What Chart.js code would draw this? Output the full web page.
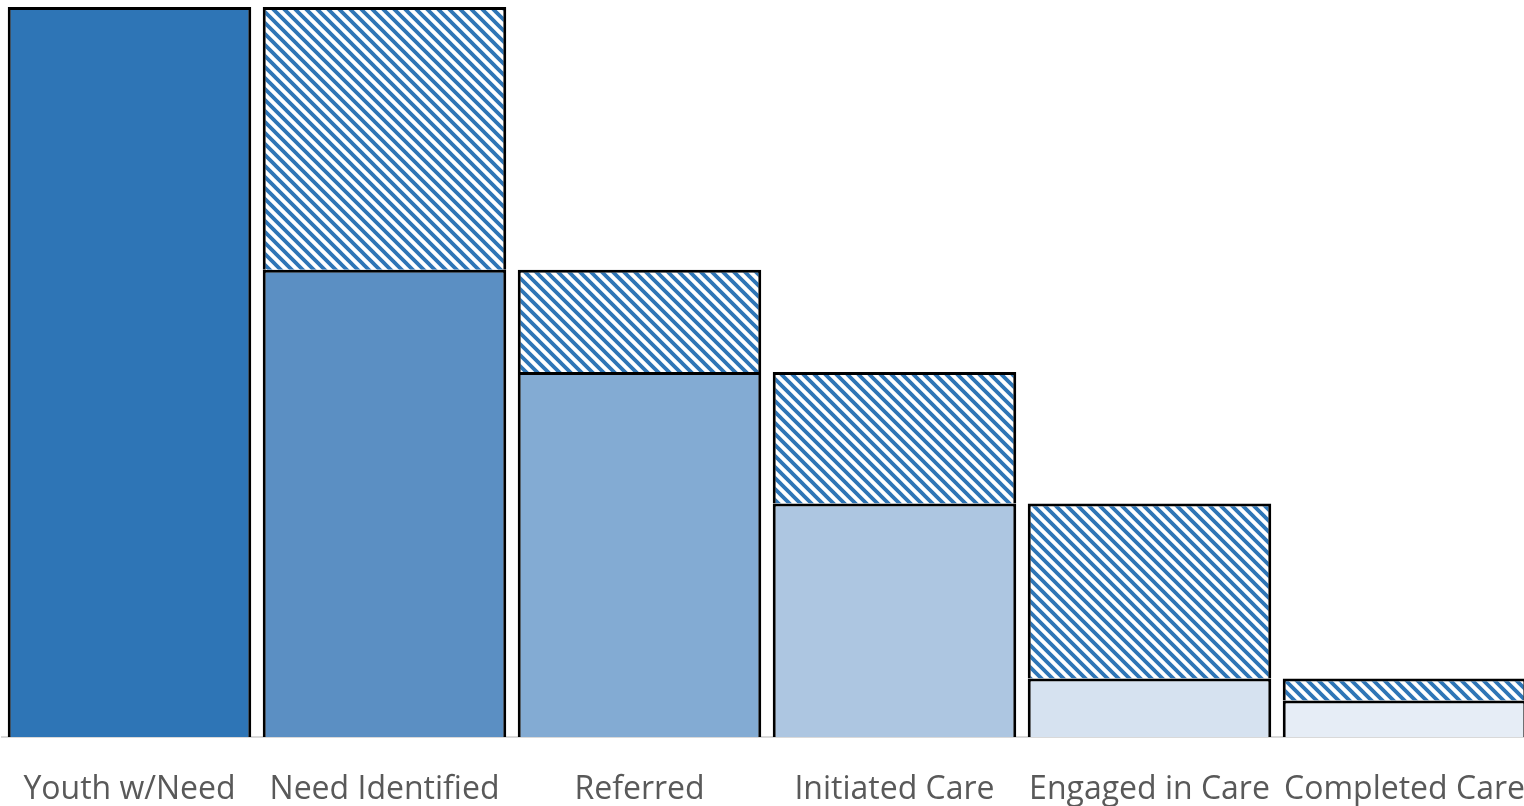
<!DOCTYPE html>
<html>
<head>
<meta charset="utf-8">
<script src="https://cdn.jsdelivr.net/npm/chart.js@4.4.0/dist/chart.umd.min.js"></script>
<style>
    html, body { margin: 0; padding: 0; background: #fff; overflow: hidden; }
    #wrap { width: 1532px; height: 806px; }
</style>
</head>
<body>
<div id="wrap"><canvas id="makeChart" width="1532" height="806"></canvas></div>
<script>
const stages = ['Youth w/Need', 'Need Identified', 'Referred', 'Initiated Care', 'Engaged in Care', 'Completed Care'];
const reached = [100, 64, 50, 32, 8, 5];
const lost = [null, 36, 14, 18, 24, 3];
const stageColors = ['#2E75B6', '#5B8FC3', '#83ABD3', '#ADC6E1', '#D6E2F0', '#E6EDF6'];

// diagonal "\" hatch, blue on white
const makeHatch = () => {
    const size = 11;
    const tile = document.createElement('canvas');
    tile.width = size;
    tile.height = size;
    const c = tile.getContext('2d');
    c.fillStyle = '#ffffff';
    c.fillRect(0, 0, size, size);
    c.strokeStyle = '#2E75B6';
    c.lineWidth = 3.8;
    c.beginPath();
    c.moveTo(-3, -3); c.lineTo(size + 3, size + 3);
    c.moveTo(-3 - size, -3); c.lineTo(3, size + 3);
    c.moveTo(size - 3, -3); c.lineTo(2 * size + 3, size + 3);
    c.stroke();
    return c.createPattern(tile, 'repeat');
};

const ctx = document.getElementById('makeChart').getContext('2d');
const hatch = makeHatch();

const data = {
    labels: stages,
    datasets: [{
        label: 'Reached',
        data: reached,
        backgroundColor: stageColors,
        borderColor: '#000000',
        borderWidth: 3,
        barPercentage: 0.955,
        categoryPercentage: 1
    }, {
        label: 'Lost',
        data: lost,
        backgroundColor: hatch,
        borderColor: '#000000',
        borderWidth: 3,
        barPercentage: 0.955,
        categoryPercentage: 1
    }]
};

const config = {
    type: 'bar',
    data: data,
    options: {
        responsive: false,
        animation: false,
        layout: { padding: { top: 7, left: 2, right: 0, bottom: 0 } },
        plugins: {
            legend: { display: false },
            tooltip: { enabled: false }
        },
        scales: {
            x: {
                stacked: true,
                z: 1,
                grid: { display: false, drawTicks: false },
                border: { display: true, color: '#d9d9d9', width: 2 },
                ticks: {
                    color: '#595959',
                    font: { family: 'Open Sans', size: 32 },
                    padding: 34,
                    maxRotation: 0,
                    autoSkip: false
                },
                afterFit: (scale) => {
                    scale.height = 69;
                    scale.paddingLeft = 0;
                    scale.paddingRight = 0;
                }
            },
            y: {
                stacked: true,
                display: false,
                min: 0,
                max: 100
            }
        }
    }
};

const myChart = new Chart(ctx, config);
</script>
</body>
</html>
